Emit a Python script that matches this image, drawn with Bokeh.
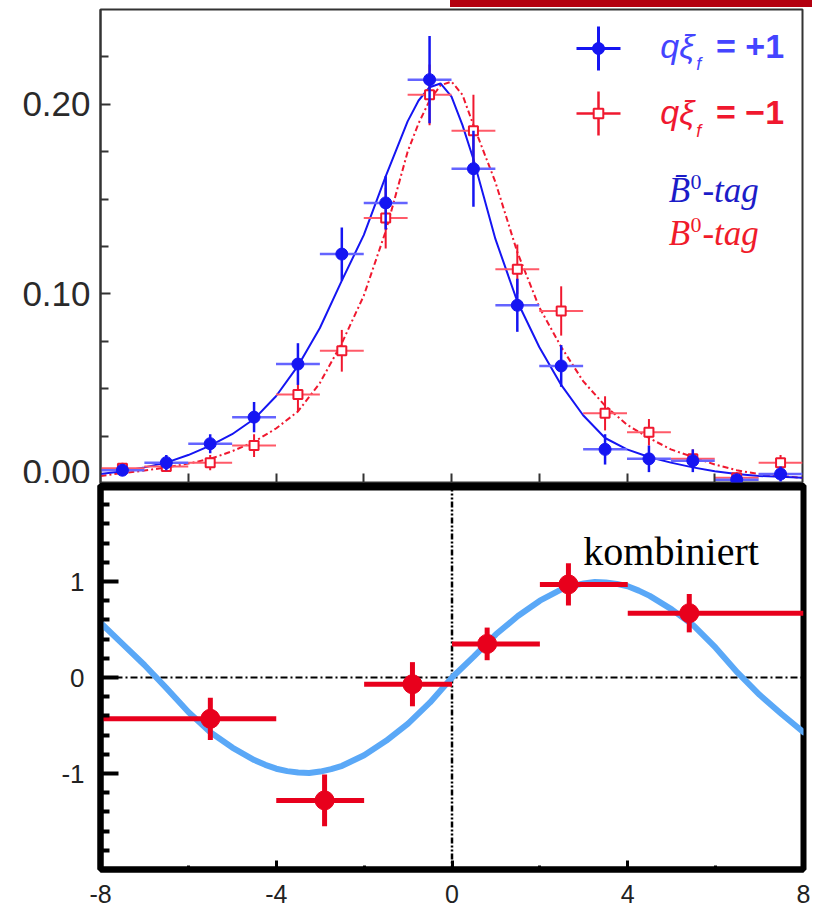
import numpy as np
from bokeh.plotting import figure
from bokeh.models import (Range1d, FixedTicker, NumeralTickFormatter, Span, Label,
                          Legend, LegendItem, LinearAxis, ColumnDataSource, Spacer)
from bokeh.layouts import column, row
from bokeh.embed import file_html
from bokeh.resources import INLINE
from bokeh.core.properties import value

# ---------------- data : upper panel (normalised Δt distributions) ----------------
bin_centers = [-7.5, -6.5, -5.5, -4.5, -3.5, -2.5, -1.5, -0.5,
               0.5, 1.5, 2.5, 3.5, 4.5, 5.5, 6.5, 7.5]
bin_half_width = 0.5
plus_y = [0.007, 0.011, 0.021, 0.035, 0.063, 0.121, 0.148, 0.213,
          0.166, 0.094, 0.062, 0.018, 0.013, 0.012, 0.002, 0.005]
plus_err = [0.003, 0.004, 0.005, 0.008, 0.011, 0.014, 0.014, 0.023,
            0.020, 0.014, 0.011, 0.008, 0.007, 0.006, 0.003, 0.004]
minus_y = [0.008, 0.009, 0.011, 0.020, 0.047, 0.070, 0.140, 0.205,
           0.186, 0.113, 0.091, 0.037, 0.027, 0.013, 0.003, 0.011]
minus_err = [0.003, 0.003, 0.004, 0.006, 0.009, 0.011, 0.016, 0.016,
             0.019, 0.013, 0.013, 0.009, 0.007, 0.005, 0.003, 0.004]

fit_x = [-8, -7.5, -7, -6.5, -6, -5.5, -5, -4.5, -4, -3.5, -3, -2.5, -2, -1.5, -1,
         -0.75, -0.5, -0.25, 0, 0.25, 0.5, 0.75, 1, 1.5, 2, 2.5, 3, 3.5, 4, 4.5,
         5, 5.5, 6, 6.5, 7, 7.5, 8]
fit_plus = [0.005, 0.0065, 0.0085, 0.011, 0.015, 0.020, 0.026, 0.034, 0.046, 0.062,
            0.082, 0.107, 0.131, 0.162, 0.191, 0.202, 0.209, 0.211, 0.204, 0.189,
            0.171, 0.150, 0.129, 0.096, 0.072, 0.052, 0.036, 0.024, 0.018, 0.014,
            0.011, 0.0085, 0.0065, 0.005, 0.004, 0.0035, 0.003]
fit_minus = [0.004, 0.0055, 0.0068, 0.0085, 0.0105, 0.013, 0.017, 0.022, 0.029, 0.038,
             0.053, 0.074, 0.099, 0.133, 0.175, 0.190, 0.202, 0.210, 0.212, 0.205,
             0.189, 0.174, 0.159, 0.122, 0.093, 0.072, 0.054, 0.041, 0.031, 0.024,
             0.018, 0.014, 0.010, 0.007, 0.005, 0.004, 0.003]

top_x_ticks = [-6, -4, -2, 0, 2, 4, 6]
top_y_ticks = [0.0, 0.1, 0.2]
top_y_minor = [0.025, 0.05, 0.075, 0.125, 0.15, 0.175, 0.225]

# ---------------- data : lower panel (combined asymmetry) ----------------
asym_x = [-5.5, -2.9, -0.9, 0.8, 2.65, 5.4]
asym_lo = [-8, -4, -2, 0, 2, 4]
asym_hi = [-4, -2, 0, 2, 4, 8]
asym_y = [-0.43, -1.28, -0.07, 0.35, 0.97, 0.67]
asym_err = [0.22, 0.27, 0.23, 0.17, 0.22, 0.20]

osc_x = [-8, -7.5, -7, -6.5, -6, -5.5, -5, -4.5, -4.25, -4, -3.75, -3.5, -3.25, -3,
         -2.75, -2.5, -2, -1.5, -1, -0.5, 0, 0.5, 1, 1.5, 2, 2.5, 2.75, 3, 3.25, 3.5,
         3.75, 4, 4.25, 4.5, 5, 5.5, 6, 6.5, 7, 7.5, 8]
osc_y = [0.57, 0.35, 0.13, -0.11, -0.36, -0.57, -0.73, -0.86, -0.91, -0.95, -0.975,
         -0.99, -0.995, -0.98, -0.955, -0.92, -0.81, -0.66, -0.48, -0.26, 0.0, 0.22,
         0.45, 0.64, 0.80, 0.92, 0.955, 0.98, 0.995, 0.99, 0.975, 0.95, 0.905, 0.85,
         0.71, 0.54, 0.31, 0.05, -0.18, -0.38, -0.57]

bot_x_ticks = [-8, -4, 0, 4, 8]
bot_x_labels = ["-8", "-4", "0", "4", "8"]
bot_x_minor = [-6, -2, 2, 6]
bot_y_ticks = [-1, 0, 1]
bot_y_labels = ["-1", "0", "1"]
bot_y_minor = [-1.8, -1.6, -1.4, -1.2, -0.8, -0.6, -0.4, -0.2,
               0.2, 0.4, 0.6, 0.8, 1.2, 1.4, 1.6, 1.8]

# ---------------- styles ----------------
BLUE = "#1515f2"
BLUE_LIGHT = "#6464ff"
BLUE_TEXT = "#4444ff"
BLUE_TAG = "#1c1cc8"
RED = "#f0182f"
RED_LIGHT = "#ff5a68"
RED_TAG = "#f01b2a"
ASYM_RED = "#e8001c"
OSC_BLUE = "#5aa8f7"
BANNER = "#b3000f"

# ================= banner strip above the upper panel =================
banner = Spacer(width=362, height=7, styles={"background-color": BANNER})
banner_row = row(Spacer(width=450, height=7), banner, spacing=0)

# ================= upper figure =================
top = figure(width=811, height=476, x_range=Range1d(-8, 8), y_range=Range1d(0, 0.25),
             output_backend="svg", toolbar_location=None,
             min_border_left=100, min_border_right=1, min_border_top=2, min_border_bottom=0,
             background_fill_color="white", border_fill_color="white")
top.grid.visible = False
top.outline_line_color = "#333333"
top.outline_line_width = 2

ya = top.yaxis[0]
ya.ticker = FixedTicker(ticks=top_y_ticks, minor_ticks=top_y_minor)
ya.formatter = NumeralTickFormatter(format="0.00")
ya.major_label_text_font = "Liberation Sans"
ya.major_label_text_font_size = "35px"
ya.major_label_text_color = "#2a2a2a"
ya.major_label_standoff = 10
ya.major_tick_in = 10
ya.major_tick_out = 0
ya.minor_tick_in = 8
ya.minor_tick_out = 0
ya.major_tick_line_color = "#333333"
ya.minor_tick_line_color = "#333333"
ya.major_tick_line_width = 2
ya.minor_tick_line_width = 2
ya.axis_line_color = "#333333"
ya.axis_line_width = 2

xa = top.xaxis[0]
xa.ticker = FixedTicker(ticks=top_x_ticks, minor_ticks=[])
xa.major_label_text_font_size = "0px"
xa.major_label_text_color = None
xa.major_label_text_alpha = 0
xa.major_label_standoff = 0
xa.major_tick_in = 10
xa.major_tick_out = 0
xa.major_tick_line_color = "#333333"
xa.major_tick_line_width = 2
xa.axis_line_color = "#222222"
xa.axis_line_width = 2

bc = np.array(bin_centers)
src_plus = ColumnDataSource(dict(x=bc, y=np.array(plus_y), e=np.array(plus_err)))
src_minus = ColumnDataSource(dict(x=bc, y=np.array(minus_y), e=np.array(minus_err)))
for s in (src_plus, src_minus):
    d = s.data
    d["xl"] = d["x"] - bin_half_width
    d["xh"] = d["x"] + bin_half_width
    d["yl"] = d["y"] - d["e"]
    d["yh"] = d["y"] + d["e"]

top.line(fit_x, fit_minus, line_color=RED, line_width=2, line_dash="6 3 2 3")
top.line(fit_x, fit_plus, line_color=BLUE, line_width=2)

top.segment(x0="xl", y0="y", x1="xh", y1="y", source=src_minus, line_color=RED_LIGHT, line_width=2)
top.segment(x0="x", y0="yl", x1="x", y1="yh", source=src_minus, line_color=RED, line_width=2)
minus_pts = top.scatter("x", "y", source=src_minus, marker="square", size=9,
                        fill_color="white", line_color=RED, line_width=2)

top.segment(x0="xl", y0="y", x1="xh", y1="y", source=src_plus, line_color=BLUE_LIGHT, line_width=2.5)
top.segment(x0="x", y0="yl", x1="x", y1="yh", source=src_plus, line_color=BLUE, line_width=2.5)
plus_pts = top.scatter("x", "y", source=src_plus, marker="circle", size=12,
                       fill_color=BLUE, line_color=BLUE)

# legend symbols (library legends; proxies carry no visible data)
cross_plus = top.scatter(x=np.array([np.nan]), y=np.array([np.nan]), marker="cross",
                         line_color=BLUE, line_width=3)
cross_minus = top.scatter(x=np.array([np.nan]), y=np.array([np.nan]), marker="cross",
                          line_color=RED, line_width=2.5)


def glyph_legend(fig, rend, g, cx, cy, frame_left=100, frame_bottom=483):
    leg = Legend(items=[LegendItem(label=value(" "), renderers=[rend])],
                 location=(cx - g / 2 - frame_left, frame_bottom - (cy + g / 2)),
                 glyph_width=g, glyph_height=g, padding=0, spacing=0, margin=0,
                 label_standoff=0, label_width=0, label_height=0,
                 label_text_font_size="1px", label_text_color=None, label_text_alpha=0,
                 border_line_color=None, background_fill_alpha=0)
    fig.add_layout(leg)


glyph_legend(top, cross_plus, 110, 598, 48)
glyph_legend(top, plus_pts, 30, 598, 48)
glyph_legend(top, cross_minus, 110, 598, 113)
glyph_legend(top, minus_pts, 24, 598, 113)

# legend texts
for (yc, ysub, txt, col) in [(0.231, 0.221, "= +1", BLUE_TEXT), (0.196, 0.186, "= \u22121", RED)]:
    top.add_layout(Label(x=4.76, y=yc, text="q\u03be", text_font="Liberation Sans",
                         text_font_style="italic", text_font_size="34px",
                         text_color=col, text_baseline="middle", text_align="left"))
    top.add_layout(Label(x=5.58, y=ysub, text="f", text_font="Liberation Sans",
                         text_font_style="italic", text_font_size="18px",
                         text_color=col, text_baseline="middle", text_align="left"))
    top.add_layout(Label(x=6.03, y=yc, text=txt, text_font="Liberation Sans",
                         text_font_style="bold", text_font_size="34px",
                         text_color=col, text_baseline="middle", text_align="left"))

for (yb, ysup, btxt, col) in [(0.1545, 0.1592, "B\u0304", BLUE_TAG), (0.1319, 0.1366, "B", RED_TAG)]:
    top.add_layout(Label(x=4.95, y=yb, text=btxt, text_font="Liberation Serif",
                         text_font_style="italic", text_font_size="35px",
                         text_color=col, text_baseline="alphabetic", text_align="left"))
    top.add_layout(Label(x=5.45, y=ysup, text="0", text_font="Liberation Serif",
                         text_font_size="22px",
                         text_color=col, text_baseline="alphabetic", text_align="left"))
    top.add_layout(Label(x=5.72, y=yb, text="-tag", text_font="Liberation Serif",
                         text_font_style="italic", text_font_size="35px",
                         text_color=col, text_baseline="alphabetic", text_align="left"))

# ================= lower figure =================
bot = figure(width=812, height=422, x_range=Range1d(-8, 8), y_range=Range1d(-2, 2),
             output_backend="svg", toolbar_location=None,
             min_border_left=100, min_border_right=9, min_border_top=2, min_border_bottom=0,
             background_fill_color="white", border_fill_color="white")
bot.grid.visible = False
bot.outline_line_color = "black"
bot.outline_line_width = 6

bx = bot.xaxis[0]
bx.ticker = FixedTicker(ticks=bot_x_ticks, minor_ticks=bot_x_minor)
bx.major_label_overrides = {t: l for t, l in zip(bot_x_ticks, bot_x_labels)}
bx.major_label_text_font = "Liberation Sans"
bx.major_label_text_font_size = "25px"
bx.major_label_text_color = "#222222"
bx.major_label_standoff = 15
bx.major_tick_in = 9
bx.major_tick_out = 0
bx.minor_tick_in = 4
bx.minor_tick_out = 0
bx.major_tick_line_width = 3
bx.minor_tick_line_width = 3
bx.major_tick_line_color = "black"
bx.minor_tick_line_color = "black"
bx.axis_line_width = 6
bx.axis_line_color = "black"

by = bot.yaxis[0]
by.ticker = FixedTicker(ticks=bot_y_ticks, minor_ticks=bot_y_minor)
by.major_label_overrides = {t: l for t, l in zip(bot_y_ticks, bot_y_labels)}
by.major_label_text_font = "Liberation Sans"
by.major_label_text_font_size = "26px"
by.major_label_text_color = "#222222"
by.major_label_standoff = 16
by.major_tick_in = 18
by.major_tick_out = 0
by.minor_tick_in = 9
by.minor_tick_out = 0
by.major_tick_line_width = 4
by.minor_tick_line_width = 4
by.major_tick_line_color = "black"
by.minor_tick_line_color = "black"
by.axis_line_width = 6
by.axis_line_color = "black"

top_edge = LinearAxis(ticker=FixedTicker(ticks=[]), axis_line_width=10, axis_line_color="black",
                      major_label_text_font_size="0px", major_label_standoff=0,
                      major_tick_line_color=None, minor_tick_line_color=None,
                      major_tick_out=0, major_tick_in=0)
bot.add_layout(top_edge, "above")

bot.add_layout(Span(location=0, dimension="width", line_color="black", line_width=2,
                    line_dash="7 3 2 3", level="underlay"))
bot.add_layout(Span(location=0, dimension="height", line_color="black", line_width=2.5,
                    line_dash="6 2 2 2 2 2", level="underlay"))

bot.line(osc_x, osc_y, line_color=OSC_BLUE, line_width=6, line_join="round", line_cap="round")

ay = np.array(asym_y)
ae = np.array(asym_err)
src_asym = ColumnDataSource(dict(x=asym_x, lo=asym_lo, hi=asym_hi, y=ay,
                                 yl=ay - ae, yh=ay + ae))
bot.segment(x0="lo", y0="y", x1="hi", y1="y", source=src_asym, line_color=ASYM_RED, line_width=5)
bot.segment(x0="x", y0="yl", x1="x", y1="yh", source=src_asym, line_color=ASYM_RED, line_width=5)
bot.scatter("x", "y", source=src_asym, marker="circle", size=19, fill_color=ASYM_RED,
            line_color=ASYM_RED)

bot.add_layout(Label(x=2.99, y=1.316, text="kombiniert", text_font="Liberation Serif",
                     text_font_size="40px", text_color="black",
                     text_baseline="alphabetic", text_align="left"))

layout = column(banner_row, top, bot, spacing=0)
open("out.html", "w").write(file_html(layout, INLINE))
